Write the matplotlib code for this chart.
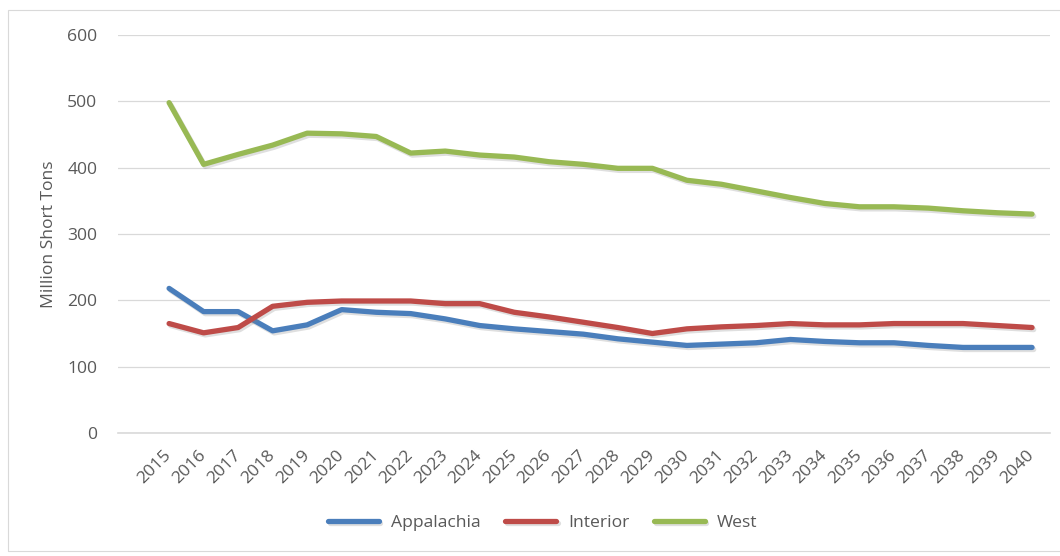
import matplotlib
matplotlib.use("Agg")
import matplotlib.pyplot as plt
import matplotlib.patheffects as pe
from matplotlib.patches import Rectangle

years = [str(y) for y in range(2015, 2041)]
appalachia = [218, 183, 183, 154, 163, 186, 182, 180, 172, 162, 157, 153, 149,
              142, 137, 132, 134, 136, 141, 138, 136, 136, 132, 129, 129, 129]
interior = [165, 151, 159, 191, 197, 199, 199, 199, 195, 195, 182, 175, 167,
            159, 150, 157, 160, 162, 165, 163, 163, 165, 165, 165, 162, 159]
west = [498, 405, 420, 434, 452, 451, 447, 422, 425, 419, 416, 409, 405,
        399, 399, 381, 375, 365, 355, 346, 341, 341, 339, 335, 332, 330]
series_names = ["Appalachia", "Interior", "West"]
colors = ["#4a7ebb", "#be4b48", "#98b954"]

plt.rcParams['font.family'] = ['Open Sans', 'DejaVu Sans']

W, H = 1060, 556
fig = plt.figure(figsize=(W / 100, H / 100), dpi=100)
fig.patch.set_facecolor("white")

# outer border
fig.patches.append(Rectangle((8 / W, 1 - 551 / H), 1.1, (551 - 10) / H,
                             transform=fig.transFigure, fill=False,
                             edgecolor="#d9d9d9", linewidth=0.8))

left, right, top, bottom = 118, 1050, 35, 433
ax = fig.add_axes([left / W, 1 - bottom / H, (right - left) / W, (bottom - top) / H])

x = list(range(len(years)))
shadow = [pe.SimpleLineShadow(offset=(1.2, -1.5), shadow_color="gray", alpha=0.25),
          pe.Normal()]
for name, vals, c in zip(series_names, [appalachia, interior, west], colors):
    ax.plot(x, vals, color=c, linewidth=3.8, solid_capstyle="round",
            solid_joinstyle="round", label=name, path_effects=shadow, zorder=3)

fs = 12.6
ax.set_ylim(0, 600)
ax.set_yticks(range(0, 601, 100))
ax.set_xlim(-1.48, 25.52)
ax.set_xticks(x)
ax.set_xticklabels(years, rotation=45, ha="right", va="center",
                   rotation_mode="anchor")

ax.grid(axis="y", color="#d9d9d9", linewidth=0.9, zorder=0)
ax.set_axisbelow(True)
for s in ["top", "right", "left"]:
    ax.spines[s].set_visible(False)
ax.spines["bottom"].set_color("#d9d9d9")
ax.spines["bottom"].set_linewidth(1.2)

ax.tick_params(axis="y", length=0, pad=15, labelsize=fs, labelcolor="#595959")
ax.tick_params(axis="x", length=0, pad=14, labelsize=fs, labelcolor="#595959")

ax.set_ylabel("Million Short Tons", fontsize=fs, color="#595959")
ax.yaxis.set_label_coords((57 - left) / (right - left), 0.5)

fig.legend(loc="center", bbox_to_anchor=(0.512, 1 - 523 / H), ncol=3,
           frameon=False, fontsize=fs, handlelength=2.9, handletextpad=0.7,
           columnspacing=1.4, labelcolor="#595959")
for line in fig.legends[0].get_lines():
    line.set_linewidth(3.8)
    line.set_solid_capstyle("round")

fig.savefig("out.png", dpi=100)
